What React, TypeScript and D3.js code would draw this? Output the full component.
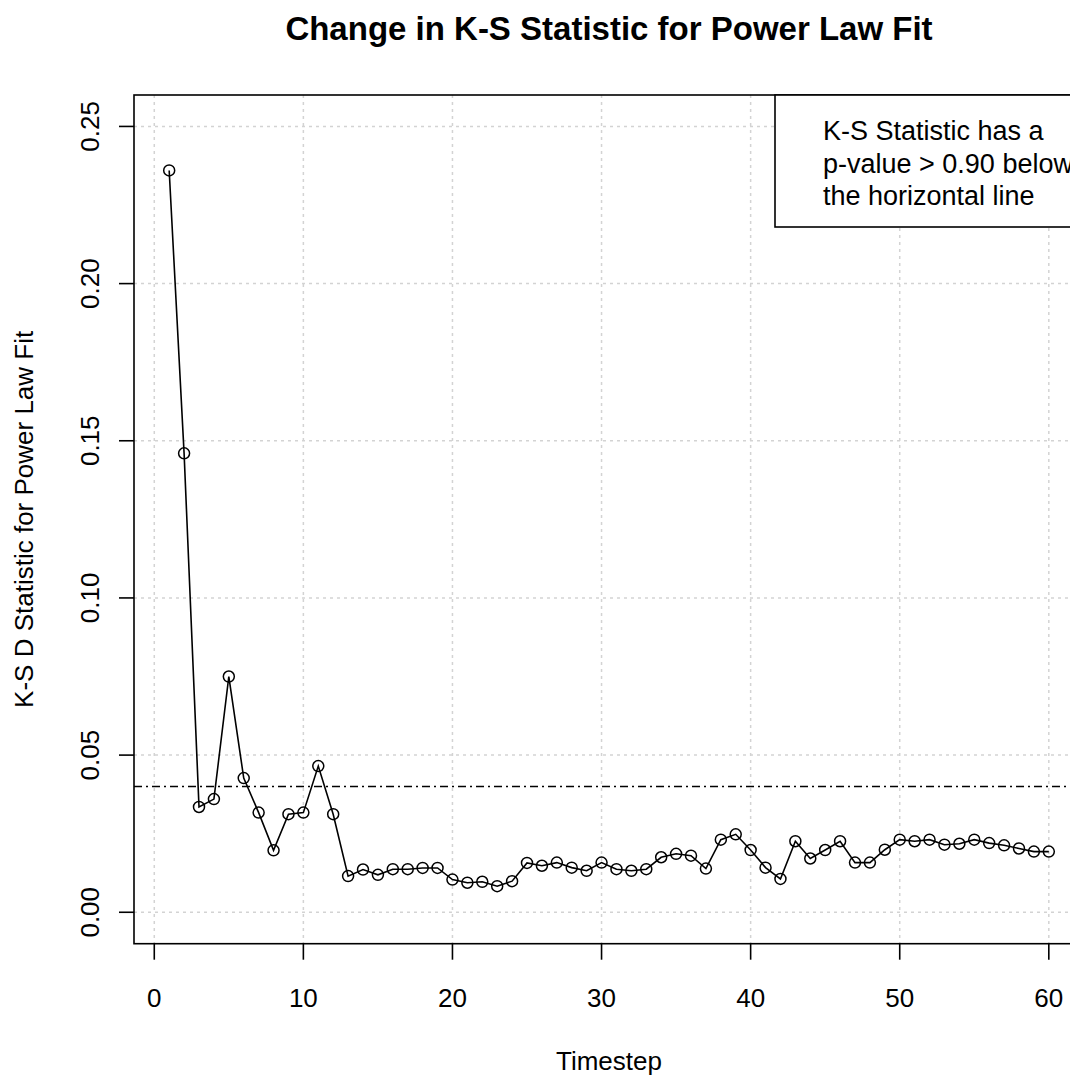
import React from "react";
import * as d3 from "d3";

// K-S D statistic of the power-law fit at each timestep
const timesteps = [
  1, 2, 3, 4, 5, 6, 7, 8, 9, 10, 11, 12, 13, 14, 15, 16, 17, 18, 19, 20,
  21, 22, 23, 24, 25, 26, 27, 28, 29, 30, 31, 32, 33, 34, 35, 36, 37, 38, 39, 40,
  41, 42, 43, 44, 45, 46, 47, 48, 49, 50, 51, 52, 53, 54, 55, 56, 57, 58, 59, 60,
];
const ksD = [
  0.236, 0.146, 0.0335, 0.036, 0.075, 0.0427, 0.0317, 0.0197, 0.0312, 0.0317,
  0.0465, 0.0312, 0.0115, 0.0136, 0.0119, 0.0137, 0.0137, 0.0141, 0.0141, 0.0104,
  0.0094, 0.0097, 0.0083, 0.0099, 0.0157, 0.0148, 0.0158, 0.0142, 0.0132, 0.0158,
  0.0137, 0.0132, 0.0137, 0.0175, 0.0186, 0.018, 0.0139, 0.0231, 0.0248, 0.0198,
  0.0142, 0.0106, 0.0226, 0.0171, 0.0198, 0.0226, 0.0158, 0.0158, 0.0199, 0.0231,
  0.0226, 0.0231, 0.0215, 0.0218, 0.0231, 0.022, 0.0213, 0.0203, 0.0193, 0.0193,
];
const xTicks = [0, 10, 20, 30, 40, 50, 60];
const yTicks = [0, 0.05, 0.1, 0.15, 0.2, 0.25];
const yTickLabels = ["0.00", "0.05", "0.10", "0.15", "0.20", "0.25"];
const threshold = 0.04;
const legendLines = [
  "K-S Statistic has a",
  "p-value > 0.90 below",
  "the horizontal line",
];

const W = 1070;
const H = 1078;
const left = 134;
const right = 1084;
const top = 95;
const bottom = 943.7;
const FONT = "'Liberation Sans', Arial, Helvetica, sans-serif";

export default function App() {
  const x = d3.scaleLinear().domain([-1.36, 62.36]).range([left, right]);
  const y = d3.scaleLinear().domain([-0.01, 0.26]).range([bottom, top]);

  const pts = timesteps.map((t, i) => [x(t), y(ksD[i])] as [number, number]);
  const linePath = d3.line()(pts) || "";
  const cx = (left + right) / 2;
  const cy = (top + bottom) / 2;

  return (
    <svg
      width={W}
      height={H}
      style={{ position: "absolute", left: 0, top: 0, background: "#fff" }}
      fontFamily={FONT}
    >
      <rect x={0} y={0} width={W} height={H} fill="#fff" />

      {/* grid */}
      <g stroke="#d3d3d3" strokeWidth={1.5} strokeDasharray="3,4">
        {xTicks.map((t) => (
          <line key={"gx" + t} x1={x(t)} x2={x(t)} y1={top} y2={bottom} />
        ))}
        {yTicks.map((t) => (
          <line key={"gy" + t} x1={left} x2={right} y1={y(t)} y2={y(t)} />
        ))}
      </g>

      {/* threshold line */}
      <line
        x1={left}
        x2={right}
        y1={y(threshold)}
        y2={y(threshold)}
        stroke="#000"
        strokeWidth={1.6}
        strokeDasharray="8,4,2,4"
      />

      {/* series */}
      <path d={linePath} fill="none" stroke="#000" strokeWidth={1.6} />
      {pts.map(([px, py], i) => (
        <circle key={i} cx={px} cy={py} r={5.5} fill="none" stroke="#000" strokeWidth={1.5} />
      ))}

      {/* plot frame */}
      <rect
        x={left}
        y={top}
        width={right - left}
        height={bottom - top}
        fill="none"
        stroke="#000"
        strokeWidth={1.6}
      />

      {/* x axis */}
      <g>
        {xTicks.map((t) => (
          <g key={"xt" + t}>
            <line x1={x(t)} x2={x(t)} y1={bottom} y2={bottom + 16} stroke="#000" strokeWidth={1.6} />
            <text x={x(t)} y={1007} fontSize={26} textAnchor="middle" fill="#000">
              {t}
            </text>
          </g>
        ))}
      </g>

      {/* y axis */}
      <g>
        {yTicks.map((t, i) => (
          <g key={"yt" + t}>
            <line x1={left - 15} x2={left} y1={y(t)} y2={y(t)} stroke="#000" strokeWidth={1.6} />
            <text
              transform={`translate(99,${y(t)}) rotate(-90)`}
              fontSize={26}
              textAnchor="middle"
              fill="#000"
            >
              {yTickLabels[i]}
            </text>
          </g>
        ))}
      </g>

      {/* legend */}
      <rect x={775} y={top} width={400} height={132} fill="#fff" stroke="#000" strokeWidth={1.6} />
      {legendLines.map((s, i) => (
        <text key={s} x={823} y={140 + i * 32.5} fontSize={27} fill="#000">
          {s}
        </text>
      ))}

      {/* titles */}
      <text x={cx} y={40} fontSize={33} fontWeight="bold" textAnchor="middle" fill="#000">
        Change in K-S Statistic for Power Law Fit
      </text>
      <text x={cx} y={1070} fontSize={26} textAnchor="middle" fill="#000">
        Timestep
      </text>
      <text
        transform={`translate(33,${cy}) rotate(-90)`}
        fontSize={26}
        textAnchor="middle"
        fill="#000"
      >
        K-S D Statistic for Power Law Fit
      </text>
    </svg>
  );
}
